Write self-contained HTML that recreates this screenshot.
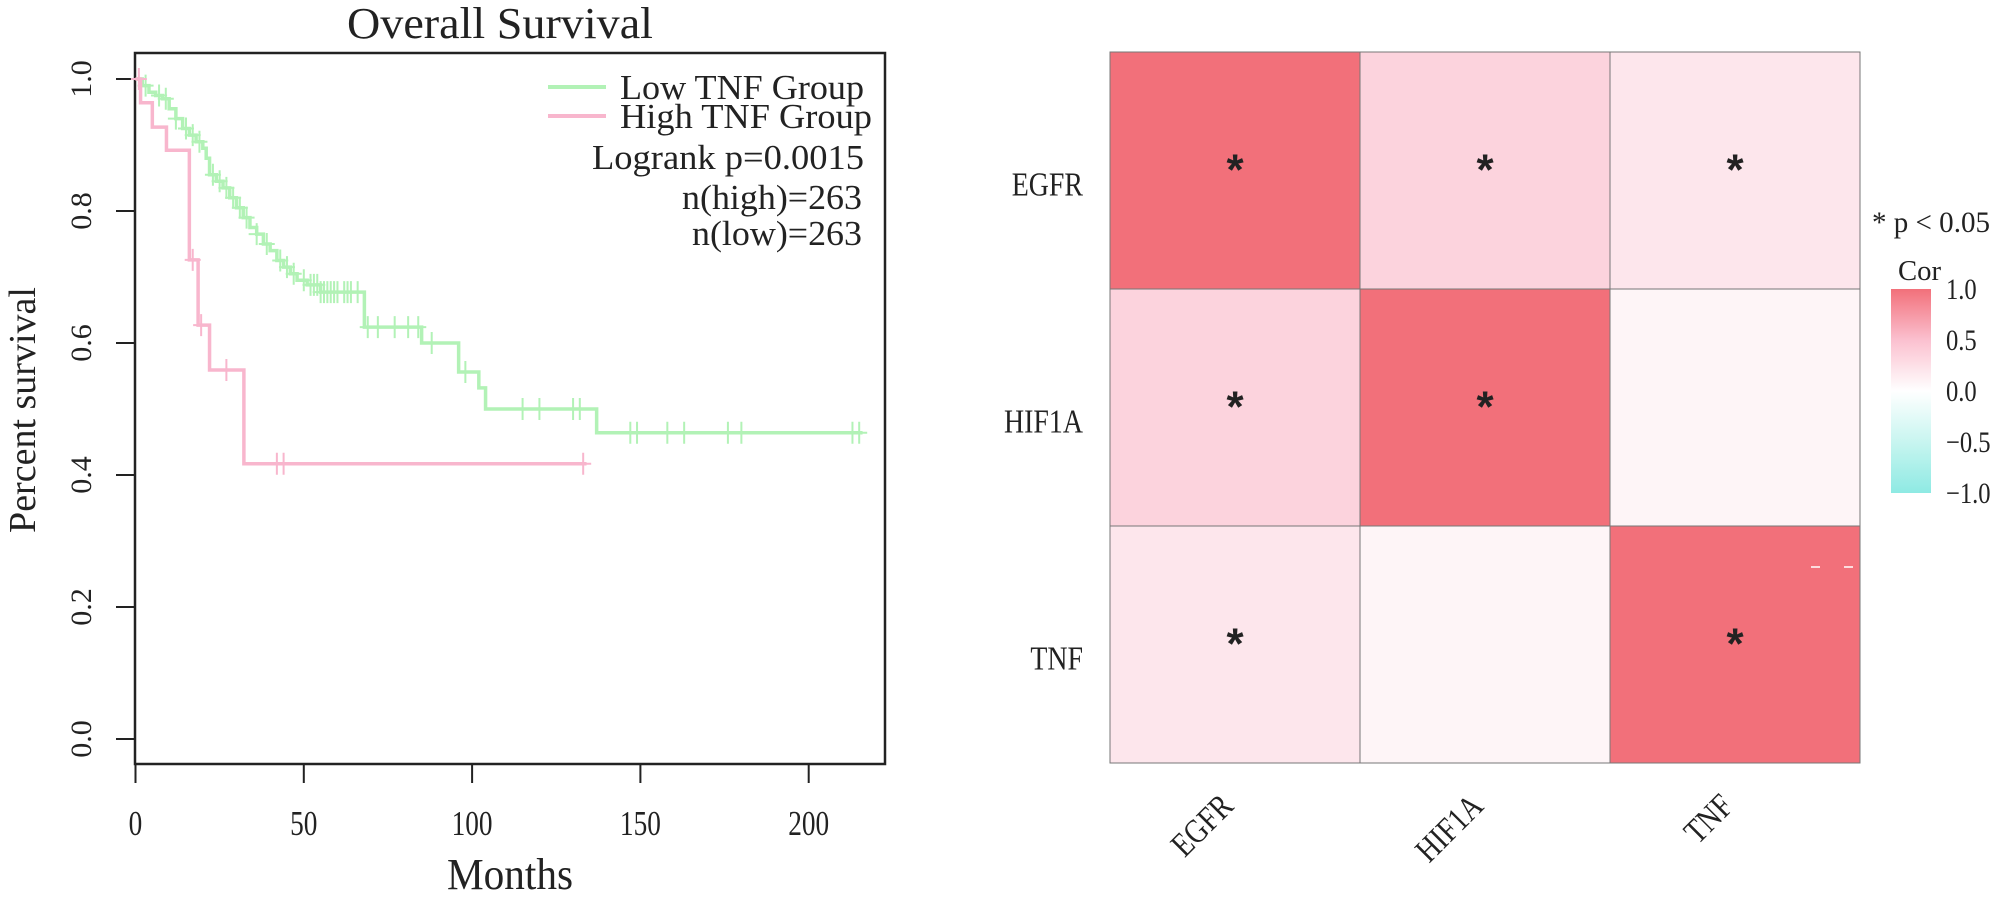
<!DOCTYPE html>
<html><head><meta charset="utf-8"><style>
html,body{margin:0;padding:0;background:#fff;width:2000px;height:901px;overflow:hidden}
svg{display:block}
text{font-family:"Liberation Serif",serif;fill:#222}
</style></head><body>
<svg id="chart" width="2000" height="901" viewBox="0 0 2000 901">
<g id="km"></g>
<g id="hm"></g>
</svg>
<script>
// ---------- Survival data ----------
const lowTimes = [0,2,4,6,8,10,12,14,16,18,20,21,22,24,26,28,30,32,34,36,38,40,42,44,46,48,51,55,68,85,96,102,104,137];
const lowSurv  = [1,0.99,0.98,0.975,0.97,0.955,0.94,0.925,0.915,0.905,0.895,0.88,0.855,0.845,0.835,0.82,0.805,0.79,0.775,0.765,0.75,0.74,0.725,0.715,0.705,0.695,0.688,0.677,0.624,0.60,0.556,0.532,0.50,0.464];
const lowEnd = 216;
const lowCensor = [3,7,9,12,15,17,19,23,25,27,29,31,33,36,39,43,45,47,50,52,53,54,55,56,57,58,59,60,62,63,64,66,69,72,77,81,84,88,98,115,120,130,132,147,149,158,163,176,180,213,215];
const highTimes = [0,1.5,5,9.2,16,18.6,22,32.2];
const highSurv  = [1,0.964,0.927,0.892,0.726,0.627,0.559,0.417];
const highEnd = 134;
const highCensor = [1,17,19.5,27,42,44,133];
const xTicks = [0,50,100,150,200];
const yTicks = [0,0.2,0.4,0.6,0.8,1.0];
const yTickLabels = ["0.0","0.2","0.4","0.6","0.8","1.0"];

// ---------- Heatmap data ----------
const genes = ["EGFR","HIF1A","TNF"];
const corValues = [[1.0,0.35,0.2],[0.35,1.0,0.08],[0.2,0.08,1.0]];
const sigFlags = [[1,1,1],[1,1,0],[1,0,1]];
const cbTicks = [1.0,0.5,0.0,-0.5,-1.0];
const cbLabels = ["1.0","0.5","0.0","\u22120.5","\u22121.0"];

const NS="http://www.w3.org/2000/svg";
function mk(parent,tag,attrs,txt){const e=document.createElementNS(NS,tag);for(const k in attrs)e.setAttribute(k,attrs[k]);if(txt!==undefined)e.textContent=txt;parent.appendChild(e);return e;}

// ---------- KM ----------
const km=document.getElementById('km');
const X=t=>135.5+t*3.366;
const Y=s=>739-s*660;
let e;
e=mk(km,'rect',{x:135,y:53,width:750,height:711,fill:'none',stroke:'#222','stroke-width':2.5});


e=mk(km,'text',{x:500,y:38,'text-anchor':'middle','font-size':44,textLength:306,lengthAdjust:'spacingAndGlyphs'},'Overall Survival');


xTicks.forEach(t=>{
  e=mk(km,'line',{x1:X(t),x2:X(t),y1:764,y2:783,stroke:'#222','stroke-width':2});
  
  
  e=mk(km,'text',{x:X(t),y:835,'text-anchor':'middle','font-size':35,transform:`translate(${X(t)} 0) scale(0.78 1) translate(${-X(t)} 0)`},String(t));
  
  
});
yTicks.forEach((v,i)=>{
  e=mk(km,'line',{x1:116,x2:135,y1:Y(v),y2:Y(v),stroke:'#222','stroke-width':2});
  
  
  e=mk(km,'text',{x:0,y:0,'text-anchor':'middle','font-size':30,transform:`translate(91 ${Y(v)}) rotate(-90)`},yTickLabels[i]);
  
  
});
e=mk(km,'text',{x:510,y:889,'text-anchor':'middle','font-size':44,textLength:126,lengthAdjust:'spacingAndGlyphs'},'Months');


e=mk(km,'text',{x:0,y:0,'text-anchor':'middle','font-size':38,transform:'translate(35 410) rotate(-90)'},'Percent survival');



function stepPath(ts,ss,end){let d=`M${X(ts[0])},${Y(ss[0])}`;for(let i=1;i<ts.length;i++){d+=` H${X(ts[i])} V${Y(ss[i])}`;}d+=` H${X(end)}`;return d;}
function survAt(ts,ss,t){let s=ss[0];for(let i=0;i<ts.length;i++){if(ts[i]<=t)s=ss[i];}return s;}
function drawGroup(ts,ss,end,cens,col,name){
  e=mk(km,'path',{d:stepPath(ts,ss,end),fill:'none',stroke:col,'stroke-width':3.5});
  
  
  cens.forEach(t=>{const y=Y(survAt(ts,ss,t));
    e=mk(km,'path',{d:`M${X(t)},${y-11} V${y+11} M${X(t)-8},${y} H${X(t)+8}`,stroke:col,'stroke-width':2});
    
    
  });
}
drawGroup(lowTimes,lowSurv,lowEnd,lowCensor,'#b2f2b6','low-tnf');
drawGroup(highTimes,highSurv,highEnd,highCensor,'#f8b6cd','high-tnf');

e=mk(km,'line',{x1:548,x2:606,y1:87,y2:87,stroke:'#b2f2b6','stroke-width':4});


e=mk(km,'line',{x1:548,x2:606,y1:116,y2:116,stroke:'#f8b6cd','stroke-width':4});


const legTxt=[['Low TNF Group',620,99,244,'start','legend-low-label'],['High TNF Group',620,128,252,'start','legend-high-label'],['Logrank p=0.0015',864,169,272,'end','logrank-p'],['n(high)=263',862,209,180,'end','n-high'],['n(low)=263',862,245,170,'end','n-low']];
legTxt.forEach(a=>{
  e=mk(km,'text',{x:a[1],y:a[2],'text-anchor':a[4],'font-size':35,textLength:a[3],lengthAdjust:'spacingAndGlyphs'},a[0]);
  
  
});

// ---------- Heatmap ----------
const hm=document.getElementById('hm');
const hx0=1110,cw=250,hy0=52,ch=237;
function lerp(a,b,t){return a.map((v,i)=>Math.round(v+(b[i]-v)*t));}
function colorFor(v){const a=Math.abs(v);let c;
  if(v>=0){c=a<=0.5?lerp([255,255,255],[251,192,207],a/0.5):lerp([251,192,207],[242,112,122],(a-0.5)/0.5);}
  else{c=a<=0.5?lerp([255,255,255],[200,245,240],a/0.5):lerp([200,245,240],[142,234,227],(a-0.5)/0.5);}
  return `rgb(${c[0]},${c[1]},${c[2]})`;}
genes.forEach((gr,i)=>{genes.forEach((gc,j)=>{
  e=mk(hm,'rect',{x:hx0+j*cw,y:hy0+i*ch,width:cw,height:ch,fill:colorFor(corValues[i][j]),stroke:'#777','stroke-width':1});
  
  
  if(sigFlags[i][j]){
    e=mk(hm,'text',{x:hx0+j*cw+cw/2,y:hy0+i*ch+ch/2+14,'text-anchor':'middle','font-size':44,'font-weight':'bold',style:'font-family:"Liberation Sans",sans-serif',fill:'#222'},'*');
    
    
  }
});
  e=mk(hm,'text',{x:1083,y:hy0+i*ch+ch/2+25,'text-anchor':'end','font-size':34,transform:`translate(1083 0) scale(0.82 1) translate(-1083 0)`},gr);
  
  
  const cx=hx0+i*cw+cw/2, cy=808;
  e=mk(hm,'text',{x:0,y:0,'text-anchor':'end','font-size':34,transform:`translate(${cx} ${cy}) rotate(-45) scale(0.82 1)`},gr);
  
  
});
e=mk(hm,'path',{d:'M1811,567 H1820 M1844,567 H1853',stroke:'#fff','stroke-width':1.5});


e=mk(hm,'text',{x:1872,y:232,'font-size':30,textLength:118,lengthAdjust:'spacingAndGlyphs'},'* p < 0.05');


e=mk(hm,'text',{x:1898,y:280,'font-size':28,textLength:43,lengthAdjust:'spacingAndGlyphs'},'Cor');


const defs=mk(hm,'defs',{});
const lg=mk(defs,'linearGradient',{id:'cbg',x1:0,y1:0,x2:0,y2:1});
for(let k=0;k<=20;k++){const v=1-k/10;mk(lg,'stop',{offset:k/20,'stop-color':colorFor(v)});}
e=mk(hm,'rect',{x:1891,y:289,width:40,height:204,fill:'url(#cbg)'});


cbTicks.forEach((v,i)=>{
  e=mk(hm,'text',{x:1946,y:289+(1-v)/2*204+10,'font-size':30,transform:'translate(1946 0) scale(0.82 1) translate(-1946 0)'},cbLabels[i]);
  
  
});
</script>
</body></html>
